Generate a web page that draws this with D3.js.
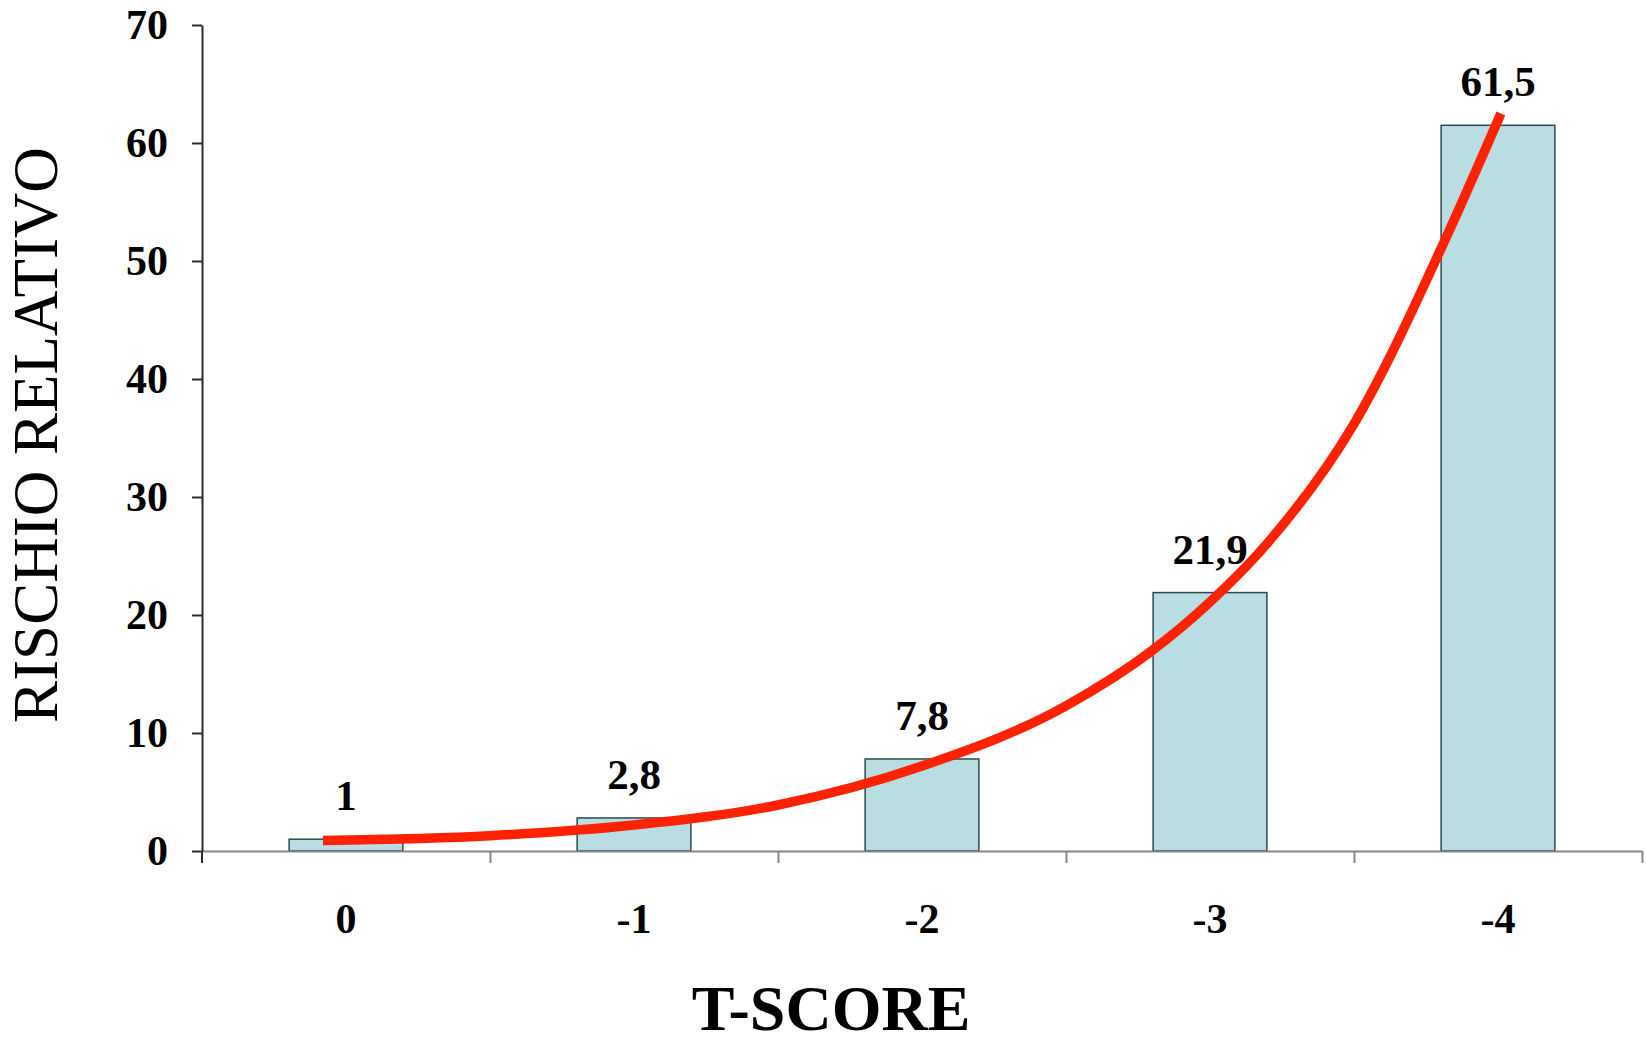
<!DOCTYPE html>
<html>
<head>
<meta charset="utf-8">
<script src="https://cdn.jsdelivr.net/npm/d3@7"></script>
<style>
  body { margin: 0; background: #fff; }
  svg { display: block; }
  text { font-family: "Liberation Serif", "Times New Roman", serif; fill: #000; }
</style>
</head>
<body>
<svg id="chart"></svg>
<script>
// data
var categories = ['0', '-1', '-2', '-3', '-4'];
var values = [1, 2.8, 7.8, 21.9, 61.5];
var valueLabels = ['1', '2,8', '7,8', '21,9', '61,5'];
var yTicks = [0, 10, 20, 30, 40, 50, 60, 70];

// red trend curve, positions in category units (0 = centre of first bar)
var trendPos = [-0.08, 0.5, 1, 1.5, 2, 2.5, 2.8, 3, 3.2, 3.5, 3.82, 4.01];
var trendVal = [0.9, 1.3, 2.2, 3.9, 7.2, 12.3, 17, 21.1, 26.1, 36.2, 52, 62.5];

var W = 1646, H = 1044;
var margin = {top: 25, right: 4, bottom: 193, left: 202};

var svg = d3.select('#chart').attr('width', W).attr('height', H);

var x = d3.scaleBand().domain(categories).range([margin.left, W - margin.right]).padding(0);
var xIdx = d3.scaleLinear().domain([0, categories.length]).range([margin.left, W - margin.right]);
var y = d3.scaleLinear().domain([0, 70]).range([H - margin.bottom, margin.top]);

var barW = x.bandwidth() * 0.395;

// bars
svg.append('g').selectAll('rect').data(values).enter().append('rect')
  .attr('x', function(d, i) { return x(categories[i]) + (x.bandwidth() - barW) / 2; })
  .attr('y', function(d) { return y(d); })
  .attr('width', barW)
  .attr('height', function(d) { return y(0) - y(d); })
  .attr('fill', '#b8dde2')
  .attr('stroke', '#2b4a4c')
  .attr('stroke-width', 1.5);

// value labels
svg.append('g').selectAll('text').data(values).enter().append('text')
  .attr('x', function(d, i) { return x(categories[i]) + x.bandwidth() / 2; })
  .attr('y', function(d) { return y(d) - 29; })
  .attr('text-anchor', 'middle')
  .style('font-size', '43px')
  .style('font-weight', 'bold')
  .text(function(d, i) { return valueLabels[i]; });

// x axis: boundary ticks
var xAxisG = svg.append('g')
  .attr('transform', 'translate(0,' + y(0) + ')')
  .call(d3.axisBottom(xIdx).tickValues([1, 2, 3, 4, 5]).tickFormat('').tickSize(12).tickSizeOuter(0));
xAxisG.selectAll('path, line').attr('stroke', '#858585').attr('stroke-width', 2);

// x axis: category labels
var xLab = svg.append('g')
  .attr('transform', 'translate(0,' + y(0) + ')')
  .call(d3.axisBottom(x).tickSize(0).tickPadding(52));
xLab.select('.domain').remove();
xLab.selectAll('text')
  .style('font-size', '42px')
  .style('font-weight', 'bold')
  .style('font-family', '"Liberation Serif", "Times New Roman", serif');

// y axis
var yAxisG = svg.append('g')
  .attr('transform', 'translate(' + margin.left + ',0)')
  .call(d3.axisLeft(y).tickValues(yTicks).tickSize(10).tickPadding(24).tickSizeOuter(0));
yAxisG.selectAll('path, line').attr('stroke', '#2a2a2a').attr('stroke-width', 2);
yAxisG.selectAll('text')
  .style('font-size', '42px')
  .style('font-weight', 'bold')
  .style('font-family', '"Liberation Serif", "Times New Roman", serif');

// y axis continues a little below the baseline
svg.append('line')
  .attr('x1', margin.left).attr('x2', margin.left)
  .attr('y1', y(0)).attr('y2', y(0) + 12)
  .attr('stroke', '#2a2a2a').attr('stroke-width', 2);

// trend curve
var line = d3.line()
  .x(function(d, i) { return xIdx(trendPos[i] + 0.5); })
  .y(function(d) { return y(d); })
  .curve(d3.curveMonotoneX);

svg.append('path')
  .datum(trendVal)
  .attr('d', line)
  .attr('fill', 'none')
  .attr('stroke', '#ff2200')
  .attr('stroke-width', 9.5)
  .attr('stroke-linecap', 'butt');

// axis titles
svg.append('text')
  .attr('x', 831)
  .attr('y', 1030)
  .attr('text-anchor', 'middle')
  .style('font-size', '64px')
  .style('font-weight', 'bold')
  .text('T-SCORE');

svg.append('text')
  .attr('transform', 'translate(57,435) rotate(-90)')
  .attr('text-anchor', 'middle')
  .style('font-size', '63px')
  .text('RISCHIO RELATIVO');
</script>
</body>
</html>
